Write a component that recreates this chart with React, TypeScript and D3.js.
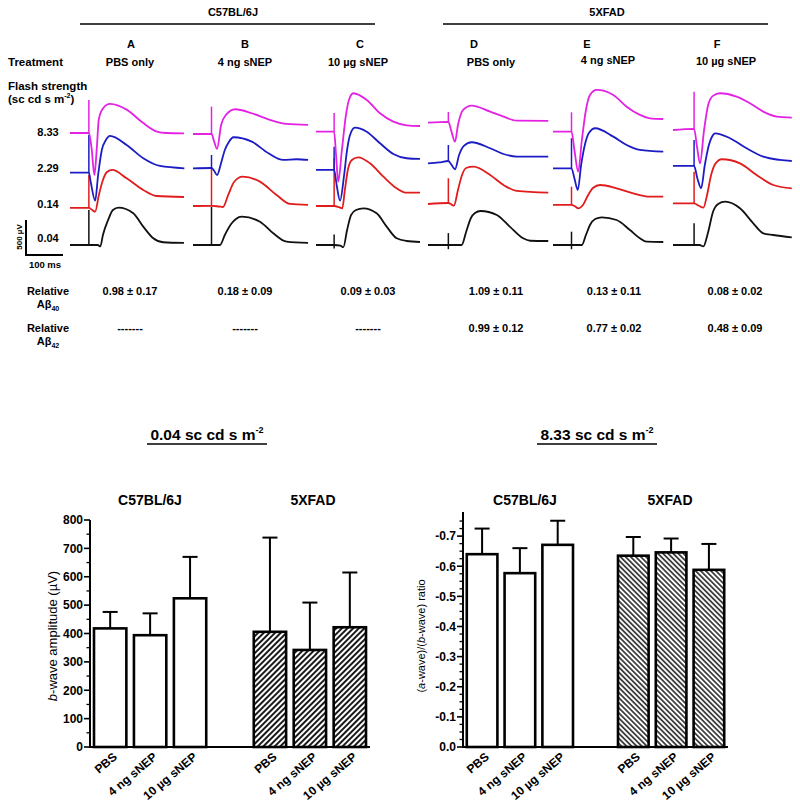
import React from 'react';
import * as d3 from 'd3';

type Pt = [number, number];

// ---------- Top: ERG traces ----------
const strains = ['C57BL/6J', '5XFAD'];
const panelLetters = ['A', 'B', 'C', 'D', 'E', 'F'];
const treatments = ['PBS only', '4 ng sNEP', '10 µg sNEP', 'PBS only', '4 ng sNEP', '10 µg sNEP'];
const flashStrengths = ['8.33', '2.29', '0.14', '0.04'];
const traceColors = ['#e322e3', '#1c1cc4', '#e01c1c', '#111111'];
// flash onset (ms from start of each panel's sweep)
const flashTimes = [51, 50, 49, 55, 50, 57];

// traces: [time ms, amplitude µV incl. row offset]; rows: 8.33, 2.29, 0.14, 0.04
const ergA: Pt[][] = [
  [[0, 1600], [51, 1600], [58, 1400], [66, 1000], [72, 1350], [78, 1800], [89, 1950], [108, 2015], [154, 1930], [197, 1745], [235, 1620], [260, 1600], [308, 1595]],
  [[0, 1033], [51, 1033], [56, 900], [68, 633], [76, 1000], [86, 1358], [97, 1500], [108, 1558], [153, 1429], [198, 1239], [243, 1129], [309, 1096]],
  [[0, 529], [51, 529], [60, 500], [68, 476], [78, 714], [89, 929], [100, 1043], [114, 1072], [153, 953], [198, 786], [234, 700], [308, 686]],
  [[0, 0], [51, 0], [75, 0], [82, -20], [89, 143], [103, 357], [116, 500], [131, 533], [171, 453], [198, 262], [225, 96], [252, 39], [308, 29]],
];
const ergB: Pt[][] = [
  [[0, 1586], [50, 1586], [57, 1480], [65, 1372], [76, 1715], [89, 1858], [114, 1939], [159, 1882], [204, 1796], [253, 1729], [311, 1715]],
  [[0, 1096], [50, 1100], [57, 1060], [65, 1000], [76, 1172], [86, 1358], [97, 1472], [109, 1539], [159, 1476], [204, 1310], [244, 1215], [280, 1225], [311, 1215]],
  [[0, 557], [50, 560], [70, 550], [81, 543], [95, 714], [111, 900], [134, 976], [181, 905], [226, 714], [262, 586], [311, 572]],
  [[0, 0], [50, 0], [73, 0], [86, 143], [103, 300], [116, 372], [132, 404], [181, 333], [217, 167], [253, 47], [311, 29]],
];
const ergC: Pt[][] = [
  [[0, 1619], [49, 1619], [54, 1300], [60, 905], [70, 1358], [81, 1858], [89, 2072], [101, 2168], [137, 2072], [173, 1882], [209, 1762], [245, 1710], [281, 1700]],
  [[0, 1072], [49, 1072], [56, 850], [65, 633], [76, 1000], [84, 1358], [92, 1572], [105, 1676], [137, 1619], [173, 1453], [209, 1300], [245, 1239], [281, 1229]],
  [[0, 557], [49, 557], [62, 540], [71, 524], [78, 786], [86, 1072], [97, 1215], [114, 1253], [146, 1167], [182, 976], [218, 810], [245, 747], [281, 747]],
  [[0, 0], [49, 0], [66, -10], [74, -30], [84, 214], [95, 429], [108, 500], [128, 524], [164, 453], [191, 262], [218, 96], [245, 57], [281, 43]],
];
const ergD: Pt[][] = [
  [[0, 1748], [55, 1760], [62, 1650], [73, 1476], [81, 1715], [95, 1929], [118, 1991], [168, 1905], [204, 1834], [240, 1776], [325, 1772]],
  [[0, 1167], [30, 1180], [55, 1200], [63, 1150], [73, 1082], [84, 1286], [97, 1415], [118, 1468], [168, 1382], [204, 1300], [240, 1262], [325, 1262]],
  [[0, 586], [55, 600], [63, 580], [70, 562], [81, 786], [92, 1000], [103, 1100], [123, 1119], [168, 1000], [204, 857], [240, 772], [325, 747]],
  [[0, 0], [55, 0], [91, 0], [103, 186], [116, 386], [127, 457], [142, 486], [186, 429], [221, 262], [257, 96], [276, 61], [325, 57]],
];
const ergE: Pt[][] = [
  [[0, 1619], [50, 1619], [58, 1350], [68, 1047], [78, 1500], [89, 1929], [100, 2143], [118, 2215], [163, 2143], [199, 1976], [235, 1858], [262, 1810], [298, 1800]],
  [[0, 1096], [50, 1096], [58, 950], [67, 786], [76, 1143], [86, 1429], [97, 1600], [114, 1668], [163, 1548], [199, 1429], [235, 1358], [298, 1333]],
  [[0, 572], [50, 572], [60, 550], [68, 524], [81, 572], [95, 714], [108, 814], [127, 857], [172, 810], [217, 738], [262, 690], [298, 690]],
  [[0, 0], [50, 0], [78, 0], [89, 143], [100, 286], [114, 372], [132, 396], [172, 357], [208, 214], [235, 96], [253, 47], [298, 43]],
];
const ergF: Pt[][] = [
  [[0, 1643], [57, 1660], [65, 1400], [73, 1167], [84, 1643], [95, 2000], [108, 2130], [127, 2168], [172, 2119], [208, 2025], [244, 1905], [280, 1834], [321, 1819]],
  [[0, 1129], [57, 1129], [66, 950], [76, 810], [86, 1143], [97, 1429], [105, 1543], [114, 1596], [154, 1525], [199, 1382], [244, 1262], [289, 1215], [321, 1200]],
  [[0, 596], [57, 596], [70, 560], [82, 533], [92, 714], [103, 1000], [114, 1157], [132, 1225], [181, 1167], [226, 1000], [271, 857], [321, 810]],
  [[0, 0], [57, 0], [72, 0], [82, -20], [95, 186], [108, 471], [122, 586], [141, 619], [181, 524], [217, 310], [244, 167], [271, 143], [321, 110]],
];
const ergPanels = [ergA, ergB, ergC, ergD, ergE, ergF];
// flash artefact extent per row: [top µV, bottom µV]
const flashArtefacts: Pt[][] = [
  [[2070, 1600], [1572, 1033], [1000, 529], [500, 0]],
  [[1976, 1586], [1286, 1100], [1100, 560], [543, 0]],
  [[1886, 1619], [1405, 1072], [1243, 557], [150, -50]],
  [[1900, 1760], [1429, 1200], [953, 600], [170, -60]],
  [[1896, 1619], [1525, 1096], [833, 572], [190, -60]],
  [[2190, 1660], [1500, 1129], [1047, 596], [310, 0]],
];

const abeta40 = ['0.98 ± 0.17', '0.18 ± 0.09', '0.09 ± 0.03', '1.09 ± 0.11', '0.13 ± 0.11', '0.08 ± 0.02'];
const abeta42 = ['-------', '-------', '-------', '0.99 ± 0.12', '0.77 ± 0.02', '0.48 ± 0.09'];

// ---------- Bottom: bar charts ----------
const barTreatments = ['PBS', '4 ng sNEP', '10 µg sNEP'];
const bwaveMean = [418, 394, 524, 406, 342, 422];
const bwaveSD = [58, 77, 146, 332, 167, 193];
const ratioMean = [-0.64, -0.577, -0.671, -0.635, -0.646, -0.588];
const ratioSD = [0.085, 0.083, 0.08, 0.062, 0.046, 0.086];
const bwaveTicks = [0, 100, 200, 300, 400, 500, 600, 700, 800];
const ratioTicks = [0, -0.1, -0.2, -0.3, -0.4, -0.5, -0.6, -0.7];

const FONT = "'Liberation Sans', Arial, Helvetica, sans-serif";

// layout
const panelX0 = [70, 193, 316, 428, 553, 673];
const letterX = [131, 245, 360, 474, 587, 717];
const treatX = [130, 245, 358, 491, 608, 726];
const treatY = [62, 62, 62, 62, 60, 61];
const valueX = [130, 245, 368, 496, 614, 735];
const rowLabelY = [132, 168, 204, 238];

const yErg = d3.scaleLinear().domain([0, 500]).range([245, 210]);
const xErgFor = (i: number) => d3.scaleLinear().domain([0, 100]).range([panelX0[i], panelX0[i] + 37]);

const slots = ['0', '1', '2', 'gap', '3', '4', '5'];
const slotOf = (i: number) => slots[i < 3 ? i : i + 1];

interface BarProps {
  axisX: number;
  xEnd: number;
  yScale: d3.ScaleLinear<number, number>;
  ticks: number[];
  minor: number[];
  fmt: (v: number) => string;
  means: number[];
  sds: number[];
  hatch: string;
  tickLabelGap: number;
}

function BarChart({ axisX, xEnd, yScale, ticks, minor, fmt, means, sds, hatch, tickLabelGap }: BarProps) {
  const band = d3.scaleBand<string>().domain(slots).range([axisX, xEnd]).paddingInner(0.19).paddingOuter(0.1);
  const y0 = yScale(0);
  const yTopPx = yScale.range()[1];
  return (
    <g>
      {means.map((m, i) => {
        const bx = band(slotOf(i))!;
        const bw = band.bandwidth();
        const cx = bx + bw / 2;
        const ym = yScale(m);
        const end = m + (m < 0 ? -sds[i] : sds[i]);
        const ye = yScale(end);
        return (
          <g key={i}>
            <line x1={cx} x2={cx} y1={ym} y2={ye} stroke="#000" strokeWidth={2} />
            <line x1={cx - 7.5} x2={cx + 7.5} y1={ye} y2={ye} stroke="#000" strokeWidth={2} />
            <rect x={bx} y={ym} width={bw} height={y0 - ym} fill={i < 3 ? '#fff' : `url(#${hatch})`} stroke="#000" strokeWidth={2.6} />
            <text
              transform={`translate(${cx + 5},${y0 + 8}) rotate(-40)`}
              textAnchor="end"
              dy="0.35em"
              fontSize={12}
              fontWeight="bold"
              fontFamily={FONT}
            >
              {barTreatments[i % 3]}
            </text>
          </g>
        );
      })}
      {/* axes */}
      <line x1={axisX} x2={axisX} y1={yTopPx} y2={y0 + 1} stroke="#000" strokeWidth={2} />
      <line x1={axisX - 1} x2={xEnd} y1={y0} y2={y0} stroke="#000" strokeWidth={2} />
      {minor.map((v, i) => (
        <line key={'m' + i} x1={axisX - 3.5} x2={axisX} y1={yScale(v)} y2={yScale(v)} stroke="#000" strokeWidth={1.3} />
      ))}
      {ticks.map((v, i) => (
        <g key={'t' + i}>
          <line x1={axisX - 6} x2={axisX} y1={yScale(v)} y2={yScale(v)} stroke="#000" strokeWidth={1.6} />
          <text x={axisX - tickLabelGap} y={yScale(v)} dy="0.36em" textAnchor="end" fontSize={12} fontWeight="bold" fontFamily={FONT}>
            {fmt(v)}
          </text>
        </g>
      ))}
    </g>
  );
}

export default function App() {
  const yB = d3.scaleLinear().domain([0, 800]).range([747, 520]);
  const yR = d3.scaleLinear().domain([0, -0.78]).range([747, 512]);
  const bMinor = d3.range(0, 801, 50).filter((v) => v % 100 !== 0);
  const rMinor = d3.range(0, 31).map((k) => -k * 0.025).filter((_, k) => k % 4 !== 0);

  const scaleBarX = 26;
  const scaleBarY = 255;

  return (
    <svg width={800} height={805} style={{ position: 'absolute', left: 0, top: 0 }} fontFamily={FONT}>
      <defs>
        <pattern id="hatchL" patternUnits="userSpaceOnUse" width={4} height={4} patternTransform="rotate(45)">
          <rect width={4} height={4} fill="#fff" />
          <line x1={2} y1={0} x2={2} y2={4} stroke="#1a1a1a" strokeWidth={2} />
        </pattern>
        <pattern id="hatchR" patternUnits="userSpaceOnUse" width={3.6} height={3.6} patternTransform="rotate(-45)">
          <rect width={3.6} height={3.6} fill="#fff" />
          <line x1={1.8} y1={0} x2={1.8} y2={3.6} stroke="#1a1a1a" strokeWidth={1.5} />
        </pattern>
      </defs>
      <rect width={800} height={805} fill="#fff" />

      {/* strain headers */}
      <text x={233} y={12} dy="0.35em" textAnchor="middle" fontSize={11} fontWeight="bold">{strains[0]}</text>
      <line x1={80} x2={375} y1={24} y2={24} stroke="#000" strokeWidth={1.5} />
      <text x={607} y={12} dy="0.35em" textAnchor="middle" fontSize={11} fontWeight="bold">{strains[1]}</text>
      <line x1={443} x2={768} y1={24} y2={24} stroke="#000" strokeWidth={1.5} />

      {panelLetters.map((l, i) => (
        <text key={l} x={letterX[i]} y={44} dy="0.35em" textAnchor="middle" fontSize={11} fontWeight="bold">{l}</text>
      ))}
      <text x={8} y={62} dy="0.35em" fontSize={11.5} fontWeight="bold">Treatment</text>
      {treatments.map((t, i) => (
        <text key={i} x={treatX[i]} y={treatY[i]} dy="0.35em" textAnchor="middle" fontSize={11} fontWeight="bold">{t}</text>
      ))}
      <text x={8} y={86} dy="0.35em" fontSize={11.5} fontWeight="bold">Flash strength</text>
      <text x={8} y={99} dy="0.35em" fontSize={11.5} fontWeight="bold">
        (sc cd s m<tspan fontSize={7} dy={-5}>-2</tspan><tspan dy={5}>)</tspan>
      </text>
      {flashStrengths.map((f, i) => (
        <text key={f} x={48} y={rowLabelY[i]} dy="0.35em" textAnchor="middle" fontSize={11} fontWeight="bold">{f}</text>
      ))}

      {/* scale bar */}
      <line x1={scaleBarX} x2={scaleBarX} y1={scaleBarY} y2={scaleBarY - (yErg(0) - yErg(500))} stroke="#000" strokeWidth={2} />
      <line x1={scaleBarX - 1} x2={scaleBarX + (xErgFor(0)(100) - xErgFor(0)(0))} y1={scaleBarY} y2={scaleBarY} stroke="#000" strokeWidth={2} />
      <text transform={`translate(19,${scaleBarY - 18}) rotate(-90)`} textAnchor="middle" dy="0.35em" fontSize={8} fontWeight="bold">500 µV</text>
      <text x={45} y={265} dy="0.35em" textAnchor="middle" fontSize={9.5} fontWeight="bold">100 ms</text>

      {/* traces */}
      {ergPanels.map((panel, pi) => {
        const xs = xErgFor(pi);
        const line = d3.line<Pt>().x((d) => xs(d[0])).y((d) => yErg(d[1])).curve(d3.curveMonotoneX);
        const order = [3, 2, 1, 0];
        return (
          <g key={pi}>
            {order.map((ri) => (
              <g key={ri}>
                <path d={line(panel[ri]) || ''} fill="none" stroke={traceColors[ri]} strokeWidth={1.8} strokeLinejoin="round" />
                <line
                  x1={xs(flashTimes[pi])}
                  x2={xs(flashTimes[pi])}
                  y1={yErg(flashArtefacts[pi][ri][0])}
                  y2={yErg(flashArtefacts[pi][ri][1])}
                  stroke={traceColors[ri]}
                  strokeWidth={1.5}
                />
              </g>
            ))}
          </g>
        );
      })}

      {/* Abeta table */}
      <text x={48} y={291} dy="0.35em" textAnchor="middle" fontSize={11} fontWeight="bold">Relative</text>
      <text x={48} y={304} dy="0.35em" textAnchor="middle" fontSize={11} fontWeight="bold">
        Aβ<tspan fontSize={7} dy={3}>40</tspan>
      </text>
      <text x={48} y={328} dy="0.35em" textAnchor="middle" fontSize={11} fontWeight="bold">Relative</text>
      <text x={48} y={341} dy="0.35em" textAnchor="middle" fontSize={11} fontWeight="bold">
        Aβ<tspan fontSize={7} dy={3}>42</tspan>
      </text>
      {abeta40.map((v, i) => (
        <text key={'a40' + i} x={valueX[i]} y={291} dy="0.35em" textAnchor="middle" fontSize={11} fontWeight="bold">{v}</text>
      ))}
      {abeta42.map((v, i) => (
        <text key={'a42' + i} x={valueX[i]} y={328} dy="0.35em" textAnchor="middle" fontSize={11} fontWeight="bold">{v}</text>
      ))}

      {/* bottom titles */}
      <text x={207} y={435} dy="0.35em" textAnchor="middle" fontSize={15.5} fontWeight="bold">
        0.04 sc cd s m<tspan fontSize={9} dy={-7}>-2</tspan>
      </text>
      <line x1={147} x2={267} y1={444} y2={444} stroke="#000" strokeWidth={1.5} />
      <text x={597} y={435} dy="0.35em" textAnchor="middle" fontSize={15.5} fontWeight="bold">
        8.33 sc cd s m<tspan fontSize={9} dy={-7}>-2</tspan>
      </text>
      <line x1={537} x2={657} y1={444} y2={444} stroke="#000" strokeWidth={1.5} />

      {/* left bar chart */}
      <text x={150} y={500} dy="0.35em" textAnchor="middle" fontSize={14} fontWeight="bold">{strains[0]}</text>
      <text x={313} y={500} dy="0.35em" textAnchor="middle" fontSize={14} fontWeight="bold">{strains[1]}</text>
      <BarChart
        axisX={90}
        xEnd={370}
        yScale={yB}
        ticks={bwaveTicks}
        minor={bMinor}
        fmt={(v) => String(v)}
        means={bwaveMean}
        sds={bwaveSD}
        hatch="hatchL"
        tickLabelGap={7}
      />
      <text transform="translate(52,636) rotate(-90)" textAnchor="middle" dy="0.35em" fontSize={13}>
        <tspan fontStyle="italic">b</tspan>-wave amplitude (µV)
      </text>

      {/* right bar chart */}
      <text x={525} y={500} dy="0.35em" textAnchor="middle" fontSize={14} fontWeight="bold">{strains[0]}</text>
      <text x={670} y={500} dy="0.35em" textAnchor="middle" fontSize={14} fontWeight="bold">{strains[1]}</text>
      <BarChart
        axisX={463}
        xEnd={728}
        yScale={yR}
        ticks={ratioTicks}
        minor={rMinor}
        fmt={(v) => (v === 0 ? '0.0' : v.toFixed(1))}
        means={ratioMean}
        sds={ratioSD}
        hatch="hatchR"
        tickLabelGap={7}
      />
      <text transform="translate(421,636) rotate(-90)" textAnchor="middle" dy="0.35em" fontSize={11}>
        (<tspan fontStyle="italic">a</tspan>-wave)/(<tspan fontStyle="italic">b</tspan>-wave) ratio
      </text>
    </svg>
  );
}
